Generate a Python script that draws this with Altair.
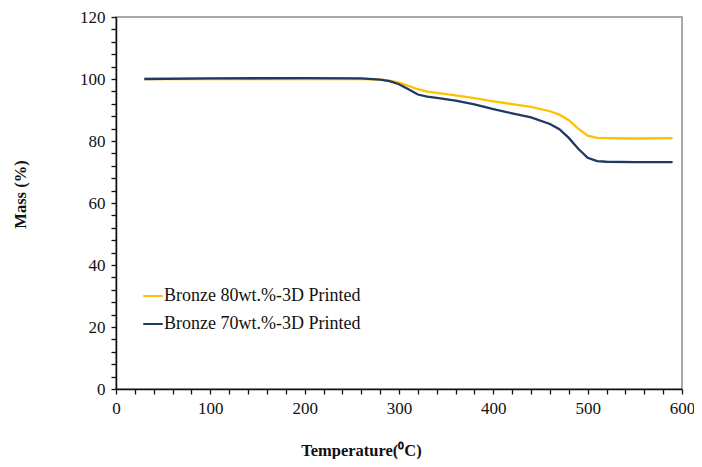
import altair as alt
import pandas as pd

temps = [30, 100, 200, 260, 280, 290, 300, 310, 320, 330, 340, 360, 380, 400,
         420, 440, 460, 470, 480, 490, 500, 510, 520, 550, 590]
mass_80 = [100.0, 100.0, 100.0, 100.0, 99.8, 99.5, 98.8, 97.8, 96.7, 95.9, 95.5,
           94.7, 93.8, 92.8, 91.9, 91.0, 89.6, 88.5, 86.7, 84.0, 81.7, 81.0, 80.9,
           80.8, 80.9]
mass_70 = [100.0, 100.2, 100.3, 100.2, 99.8, 99.3, 98.3, 96.7, 95.0, 94.3, 93.9,
           93.0, 91.8, 90.3, 88.9, 87.6, 85.5, 83.8, 81.0, 77.5, 74.6, 73.5, 73.3,
           73.2, 73.2]
series = ["Bronze 80wt.%-3D Printed", "Bronze 70wt.%-3D Printed"]
colors = ["#FFC000", "#1F3864"]

rows = []
for i, t in enumerate(temps):
    rows.append({"T": t, "M": mass_80[i], "S": series[0], "o": i})
for i, t in enumerate(temps):
    rows.append({"T": t, "M": mass_70[i], "S": series[1], "o": i})
df = pd.DataFrame(rows)

FONT = "Liberation Serif"

chart = alt.Chart(df).mark_line(strokeWidth=2.3).encode(
    x=alt.X("T:Q", scale=alt.Scale(domain=[0, 600], nice=False),
            axis=alt.Axis(title="Temperature(⁰C)", values=list(range(0, 601, 20)),
                          labelExpr="datum.value % 100 == 0 ? datum.label : ''",
                          grid=False, tickSize=5, labelPadding=6, labelFlush=False,
                          titleX=245, titleY=61, titleBaseline="middle")),
    y=alt.Y("M:Q", scale=alt.Scale(domain=[0, 120], nice=False),
            axis=alt.Axis(title="Mass (%)", values=list(range(0, 121, 4)),
                          labelExpr="datum.value % 20 == 0 ? datum.label : ''",
                          grid=False, tickSize=5, labelPadding=6, labelFlush=False,
                          titleX=-96, titleY=177, titleBaseline="middle")),
    color=alt.Color("S:N", scale=alt.Scale(domain=series, range=colors),
                    legend=alt.Legend(title=None, orient="none", legendX=26, legendY=268,
                                      symbolType="stroke", symbolSize=380,
                                      symbolStrokeWidth=2, labelFont=FONT,
                                      labelFontSize=18, labelColor="#111",
                                      labelLimit=400,
                                      rowPadding=8, labelOffset=0)),
    order="o:Q",
).properties(
    width=566, height=372,
    padding={"left": 108, "top": 9, "right": 12, "bottom": 70},
    autosize=alt.AutoSizeParams(type="none"),
).configure_view(
    stroke="#8c8c8c", strokeWidth=1.5
).configure_axis(
    domainColor="#111", domainWidth=1.5, tickColor="#111", tickWidth=1.3,
    labelFont=FONT, labelFontSize=17, labelColor="#111",
    titleFont=FONT, titleFontSize=16.5, titleFontWeight="bold", titleColor="#111",
)

chart.save("out.html", embed_options={"renderer": "svg", "actions": False})
